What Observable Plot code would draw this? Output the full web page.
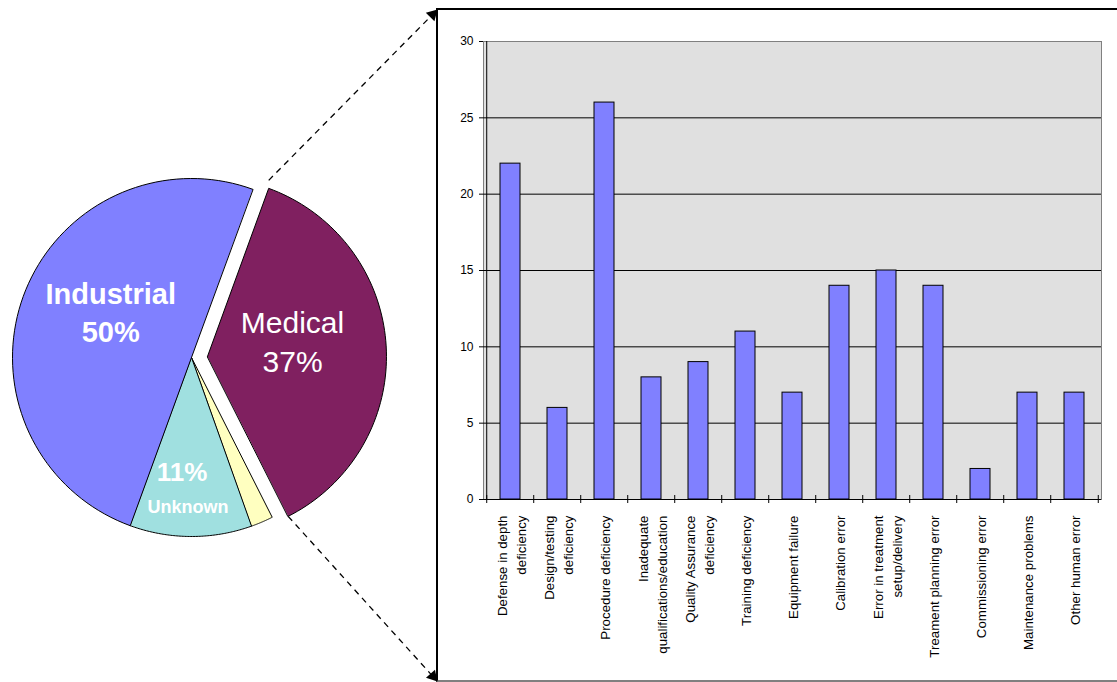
<!DOCTYPE html>
<html><head><meta charset="utf-8">
<script src="https://cdn.jsdelivr.net/npm/d3@7"></script>
<script src="https://cdn.jsdelivr.net/npm/@observablehq/plot@0.6"></script>
<style>
body{margin:0;background:#fff;}
#root{position:relative;width:1117px;height:682px;overflow:hidden;font-family:"Liberation Sans",Arial,sans-serif;}
#pie{position:absolute;left:0;top:0;}
#box{position:absolute;left:436px;top:8px;width:700px;height:674px;border-top:2px solid #000;border-left:2px solid #000;border-bottom:2px solid #808080;box-sizing:border-box;}
#bars{position:absolute;left:438px;top:10px;}
</style></head><body>
<div id="root"><div id="box"></div><div id="pie"></div><div id="bars"></div></div>
<script>
// ---------- data ----------
const causes = ["Defense in depth deficiency","Design/testing deficiency","Procedure deficiency","Inadequate qualifications/education","Quality Assurance deficiency","Training deficiency","Equipment failure","Calibration error","Error in treatment setup/delivery","Treament planning error","Commissioning error","Maintenance problems","Other human error"];
const causeLabels = ["Defense in depth\ndeficiency","Design/testing\ndeficiency","Procedure deficiency","Inadequate\nqualifications/education","Quality Assurance\ndeficiency","Training deficiency","Equipment failure","Calibration error","Error in treatment\nsetup/delivery","Treament planning error","Commissioning error","Maintenance problems","Other human error"];
const counts = [22,6,26,8,9,11,7,14,15,14,2,7,7];
const yTicks = [0,5,10,15,20,25,30];

const pieNames = ["Medical","Other","Unknown","Industrial"];
const pieShares = [37,2,11,50];
const pieColors = ["#802060","#FFFFC0","#A0E0E0","#8080FF"];

// ---------- pie ----------
const rad = Math.PI/180;
const cx = 191, cy = 357, R = 179, explode = 16;
const arcs = d3.pie().sort(null).startAngle(20*rad).endAngle(380*rad)(pieShares);
function offs(i){const m=(arcs[i].startAngle+arcs[i].endAngle)/2;const e=pieNames[i]==="Medical"?explode:0;return [e*Math.sin(m),-e*Math.cos(m)];}
function polar(i,a,r){const [ox,oy]=offs(i);return {x:cx+ox+r*Math.sin(a),y:cy+oy-r*Math.cos(a)};}
function mid(i){return (arcs[i].startAngle+arcs[i].endAngle)/2;}
const slicePts = arcs.flatMap((a,i)=>[{...polar(i,0,0),name:pieNames[i]}, ...d3.range(0,81).map(k=>({...polar(i,a.startAngle+(a.endAngle-a.startAngle)*k/80,R),name:pieNames[i]}))]);

const iMed = pieNames.indexOf("Medical"), iInd = pieNames.indexOf("Industrial"), iUnk = pieNames.indexOf("Unknown");
const medTop = polar(iMed, arcs[iMed].startAngle, R), medBot = polar(iMed, arcs[iMed].endAngle, R);
const arrows = [{x1:medTop.x,y1:medTop.y-8,x2:437,y2:9},{x1:medBot.x,y1:medBot.y,x2:437,y2:681}];
const heads = arrows.map(d=>{const dx=d.x2-d.x1,dy=d.y2-d.y1,L=Math.hypot(dx,dy);return {x:d.x2-7*dx/L,y:d.y2-7*dy/L,rot:Math.atan2(dx,-dy)/rad};});
const ends = arrows.map(d=>{const dx=d.x2-d.x1,dy=d.y2-d.y1,L=Math.hypot(dx,dy);return {...d,x2:d.x2-10*dx/L,y2:d.y2-10*dy/L};});

const lab = (i,f,dx,dy,text)=>{const p=polar(i,mid(i),f*R);return {x:p.x+dx,y:p.y+dy,text};};
const boldLabels = [lab(iInd,0.48,0,-17,"Industrial\n"+pieShares[iInd]+"%")];
const medLabels = [lab(iMed,0.476,0,-11,"Medical\n"+pieShares[iMed]+"%")];
const unkPct = [lab(iUnk,0.65,-9,-1,pieShares[iUnk]+"%")];
const unkName = [lab(iUnk,0.83,-3,1,"Unknown")];

const pie = Plot.plot({
  width:1117, height:682, margin:0,
  x:{domain:[0,1117], range:[0,1117], axis:null},
  y:{domain:[0,682], range:[0,682], axis:null},
  color:{domain:pieNames, range:pieColors},
  style:{fontFamily:"'Liberation Sans', Arial, sans-serif", background:"transparent", overflow:"visible"},
  marks:[
    Plot.line(slicePts,{x:"x",y:"y",z:"name",fill:"name",stroke:"#000",strokeWidth:1,curve:"linear-closed"}),
    Plot.text(boldLabels,{x:"x",y:"y",text:"text",fill:"#fff",fontSize:29,fontWeight:"bold",lineHeight:1.32}),
    Plot.text(medLabels,{x:"x",y:"y",text:"text",fill:"#fff",fontSize:30,lineHeight:1.3}),
    Plot.text(unkPct,{x:"x",y:"y",text:"text",fill:"#fff",fontSize:26,fontWeight:"bold"}),
    Plot.text(unkName,{x:"x",y:"y",text:"text",fill:"#fff",fontSize:18,fontWeight:"bold"}),
    Plot.link(ends,{x1:"x1",y1:"y1",x2:"x2",y2:"y2",stroke:"#000",strokeWidth:1.3,strokeDasharray:"6,5"}),
    Plot.dot(heads,{x:"x",y:"y",rotate:"rot",symbol:"triangle",r:4.5,fill:"#000",stroke:"none"})
  ]
});
document.getElementById("pie").appendChild(pie);

// ---------- bars ----------
const W = 678, H = 670, mL = 45, mR = 15, mT = 31, mB = 181;
const step = (W-mL-mR)/causes.length;
const data = causes.map((c,i)=>({cause:c,count:counts[i]}));
const labelOf = new Map(causes.map((c,i)=>[c,causeLabels[i]]));
const bars = Plot.plot({
  width:W, height:H, marginLeft:mL, marginRight:mR, marginTop:mT, marginBottom:mB,
  x:{domain:causes, padding:0.58, paddingOuter:0.29, axis:null},
  y:{domain:[0,30], axis:null},
  style:{fontFamily:"'Liberation Sans', Arial, sans-serif", background:"transparent", color:"#000", overflow:"visible"},
  marks:[
    Plot.frame({fill:"#E0E0E0", stroke:"#808080"}),
    Plot.ruleY(yTicks.filter(v=>v>0&&v<30),{stroke:"#000",strokeWidth:1}),
    Plot.barY(data,{x:"cause",y:"count",fill:"#8080FF",stroke:"#000",strokeWidth:1}),
    Plot.ruleY([0],{stroke:"#000",strokeWidth:1}),
    Plot.ruleX([causes[0]],{dx:-step/2,y1:0,y2:30,stroke:"#000",strokeWidth:1}),
    Plot.ruleX(causes,{x:d=>d,dx:-step/2,y1:0,y2:0,insetTop:-4,insetBottom:-4,stroke:"#000"}),
    Plot.ruleX([causes[causes.length-1]],{x:d=>d,dx:step/2,y1:0,y2:0,insetTop:-4,insetBottom:-4,stroke:"#000"}),
    Plot.axisY({ticks:yTicks, tickSize:4, tickPadding:6, fontSize:12, label:null, anchor:"left"}),
    Plot.axisX({tickSize:0, tickPadding:16, tickRotate:-90, fontSize:13.3, lineHeight:1.4, label:null, tickFormat:d=>labelOf.get(d)})
  ]
});
document.getElementById("bars").appendChild(bars);
</script>
</body></html>
